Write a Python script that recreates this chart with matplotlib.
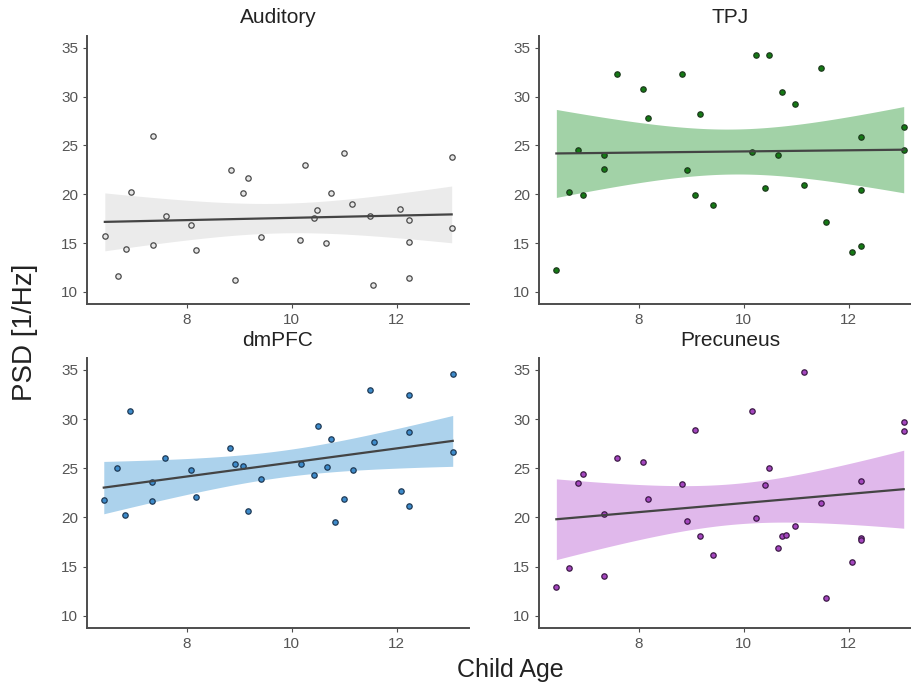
import matplotlib
matplotlib.use("Agg")
import matplotlib.pyplot as plt
import numpy as np

plt.rcParams["font.family"] = ["Liberation Sans", "DejaVu Sans"]

# ── Data ──────────────────────────────────────────────────
aud_age = [6.44, 6.69, 6.85, 6.93, 7.35, 7.35, 7.60, 8.09, 8.17, 8.84, 8.92, 9.08, 9.17, 9.42, 10.16,
           10.25, 10.42, 10.49, 10.66, 10.75, 10.99, 11.16, 11.49, 11.56, 12.06, 12.23, 12.23, 12.23, 13.05, 13.05]
aud_psd = [15.77, 11.67, 14.44, 20.21, 25.95, 14.78, 17.75, 16.83, 14.30, 22.53, 11.26, 20.11, 21.68, 15.64, 15.29,
           22.98, 17.58, 18.40, 15.02, 20.11, 24.24, 18.98, 17.82, 10.72, 18.50, 17.38, 15.12, 11.43, 23.76, 16.52]

tpj_age = [6.43, 6.68, 6.84, 6.93, 7.34, 7.34, 7.59, 8.08, 8.17, 8.83, 8.92, 9.08, 9.16, 9.41, 10.16,
           10.24, 10.41, 10.49, 10.66, 10.74, 10.98, 11.15, 11.48, 11.56, 12.06, 12.23, 12.23, 12.23, 13.05, 13.05]
tpj_psd = [12.29, 20.27, 24.50, 19.92, 24.05, 22.55, 32.31, 30.77, 27.80, 32.31, 22.48, 19.96, 28.25, 18.90, 24.32,
           34.25, 20.64, 34.25, 23.98, 30.50, 29.20, 20.98, 32.89, 17.20, 14.09, 25.86, 20.47, 14.71, 26.85, 24.53]

dmpfc_age = [6.42, 6.68, 6.83, 6.92, 7.33, 7.33, 7.59, 8.08, 8.17, 8.83, 8.92, 9.08, 9.17, 9.42, 10.17,
             10.42, 10.50, 10.67, 10.75, 10.83, 10.99, 11.17, 11.50, 11.57, 12.08, 12.24, 12.24, 12.24, 13.07, 13.07]
dmpfc_psd = [21.80, 25.03, 20.28, 30.86, 23.57, 21.64, 26.04, 24.86, 22.08, 27.03, 25.43, 25.23, 20.69, 23.94, 25.40,
             24.28, 29.27, 25.16, 27.98, 19.50, 21.87, 24.86, 32.93, 27.64, 22.69, 32.49, 28.72, 21.13, 34.59, 26.66]

prec_age = [6.43, 6.68, 6.84, 6.93, 7.34, 7.34, 7.59, 8.08, 8.17, 8.83, 8.92, 9.08, 9.16, 9.41, 10.16, 10.24,
            10.41, 10.49, 10.66, 10.74, 10.81, 10.98, 11.15, 11.48, 11.56, 12.06, 12.23, 12.23, 12.23, 13.05, 13.05]
prec_psd = [12.96, 14.84, 23.52, 24.40, 20.35, 14.05, 26.01, 25.63, 21.92, 23.39, 19.67, 28.90, 18.17, 16.20, 30.78, 19.95,
            23.28, 25.02, 16.88, 18.11, 18.21, 19.16, 34.83, 21.48, 11.87, 15.52, 23.69, 17.87, 17.70, 29.72, 28.80]

regions = ["Auditory", "TPJ", "dmPFC", "Precuneus"]
x_ticks = [8, 10, 12]
y_ticks = [10, 15, 20, 25, 30, 35]

# ── Style ─────────────────────────────────────────────────
_STYLE = {
    "Auditory": dict(point="#e6e6e6", edge="#4a4a4a", band="#ebebeb"),
    "TPJ": dict(point="#137a13", edge="#1d3a1d", band="#a2d2a7"),
    "dmPFC": dict(point="#3d8bcb", edge="#1f3a55", band="#acd2ec"),
    "Precuneus": dict(point="#a446bf", edge="#3d1a47", band="#e0b8eb"),
}
_AXIS = "#4d4d4d"
_TEXT = "#222222"

# axes boxes in figure fraction [left, bottom, width, height]
_BOXES = {
    "Auditory": [0.0955, 0.5569, 0.4193, 0.3907],
    "TPJ": [0.5917, 0.5569, 0.4193, 0.3907],
    "dmPFC": [0.0955, 0.0845, 0.4193, 0.3936],
    "Precuneus": [0.5917, 0.0845, 0.4193, 0.3936],
}


def fit_band(x, y, n=100):
    """OLS fit with a 95% confidence band for the mean (like geom_smooth(method='lm'))."""
    x = np.asarray(x)
    y = np.asarray(y)
    slope, intercept = np.polyfit(x, y, 1)
    grid = np.linspace(x.min(), x.max(), n)
    fit = intercept + slope * grid
    resid = y - (intercept + slope * x)
    dof = len(x) - 2
    s = np.sqrt(np.sum(resid ** 2) / dof)
    se = s * np.sqrt(1 / len(x) + (grid - x.mean()) ** 2 / np.sum((x - x.mean()) ** 2))
    t = 2.048  # t(0.975, df=28)
    return grid, fit, fit - t * se, fit + t * se


data = {
    "Auditory": (aud_age, aud_psd),
    "TPJ": (tpj_age, tpj_psd),
    "dmPFC": (dmpfc_age, dmpfc_psd),
    "Precuneus": (prec_age, prec_psd),
}

fig = plt.figure(figsize=(9.11, 6.86), dpi=100)
fig.patch.set_facecolor("white")

for name in regions:
    x, y = data[name]
    st = _STYLE[name]
    ax = fig.add_axes(_BOXES[name])

    grid, fit, lo, hi = fit_band(x, y)
    ax.fill_between(grid, lo, hi, color=st["band"], linewidth=0, zorder=1)
    ax.scatter(x, y, s=15, facecolor=st["point"], edgecolor=st["edge"], linewidth=0.9, zorder=2)
    ax.plot(grid, fit, color="#444444", linewidth=1.6, zorder=3)

    ax.set_xlim(6.10, 13.38)
    ax.set_ylim(8.77, 36.2)
    ax.set_xticks(x_ticks)
    ax.set_yticks(y_ticks)
    ax.tick_params(colors=_AXIS, labelcolor="#555555", labelsize=11, length=3, width=0.8)

    for side in ["top", "right"]:
        ax.spines[side].set_visible(False)
    for side in ["left", "bottom"]:
        ax.spines[side].set_color(_AXIS)
        ax.spines[side].set_linewidth(1.4)

    ax.set_title(name, fontsize=15, color=_TEXT, pad=9)

fig.text(0.027, 0.515, "PSD [1/Hz]", rotation=90, fontsize=20, color=_TEXT, ha="center", va="center")
fig.text(0.56, 0.023, "Child Age", fontsize=18, color=_TEXT, ha="center", va="center")

fig.savefig("out.png", dpi=100, facecolor="white")
